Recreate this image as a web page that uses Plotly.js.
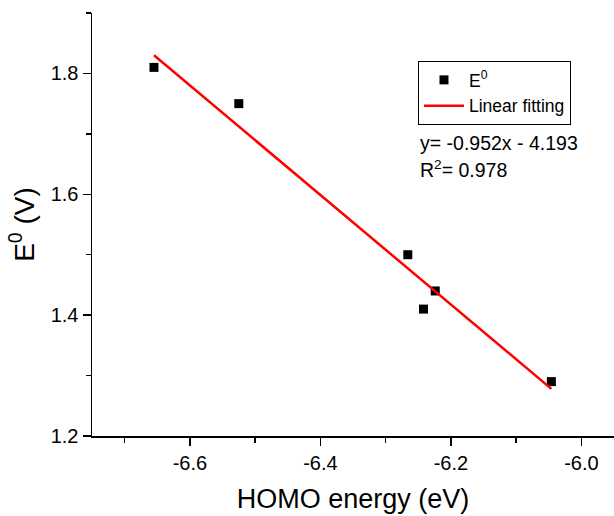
<!DOCTYPE html>
<html>
<head>
<meta charset="utf-8">
<script src="https://cdn.plot.ly/plotly-3.0.1.min.js"></script>
<style>html,body{margin:0;padding:0;background:#fff;}#chart{width:614px;height:516px;}</style>
</head>
<body>
<div id="chart"></div>
<script>
// Data
const homoEnergy = [-6.655, -6.525, -6.266, -6.224, -6.242, -6.046];
const e0Values = [1.81, 1.75, 1.50, 1.44, 1.41, 1.29];
const fitX = [-6.655, -6.046];
const fitY = [1.830, 1.278];
const xTickVals = [-6.6, -6.4, -6.2, -6.0];
const xTickText = ['-6.6', '-6.4', '-6.2', '-6.0'];
const yTickVals = [1.2, 1.4, 1.6, 1.8];
const yTickText = ['1.2', '1.4', '1.6', '1.8'];
const equationText = 'y= -0.952x - 4.193';
const r2Text = 'R<sup>2</sup>= 0.978';

const FONT = 'Liberation Sans, Arial, sans-serif';

const traces = [
  {
    x: homoEnergy, y: e0Values, type: 'scatter', mode: 'markers',
    name: 'E<sup>0</sup>',
    marker: {symbol: 'square', size: 9, color: '#000'}
  },
  {
    x: fitX, y: fitY, type: 'scatter', mode: 'lines',
    name: 'Linear fitting',
    line: {color: '#ff0000', width: 2.5}
  }
];

const axisCommon = {
  showgrid: false, zeroline: false, showline: true,
  linecolor: '#000', linewidth: 1.5,
  ticks: 'outside', ticklen: 8, tickwidth: 1.5, tickcolor: '#000',
  tickfont: {family: FONT, size: 20, color: '#000'}
};

const layout = {
  width: 614, height: 516,
  margin: {l: 92, r: 0, t: 13, b: 80},
  paper_bgcolor: '#fff', plot_bgcolor: '#fff',
  font: {family: FONT, color: '#000'},
  showlegend: true,
  xaxis: Object.assign({}, axisCommon, {
    range: [-6.75, -5.95], tickmode: 'array', tickvals: xTickVals, ticktext: xTickText,
    minor: {dtick: 0.1, tick0: -6.6, ticks: 'outside', ticklen: 5, tickwidth: 1.5, tickcolor: '#000', showgrid: false},
    title: {text: 'HOMO energy (eV)', font: {family: FONT, size: 27, color: '#000'}, standoff: 16}
  }),
  yaxis: Object.assign({}, axisCommon, {
    range: [1.2, 1.9], tickmode: 'array', tickvals: yTickVals, ticktext: yTickText,
    minor: {dtick: 0.1, tick0: 1.2, ticks: 'outside', ticklen: 5, tickwidth: 1.5, tickcolor: '#000', showgrid: false},
    title: {text: 'E<sup>0</sup> (V)', font: {family: FONT, size: 28, color: '#000'}, standoff: 8}
  }),
  legend: {
    x: 0.6245, y: 0.8865, xanchor: 'left', yanchor: 'top',
    bgcolor: '#fff', bordercolor: '#000', borderwidth: 1,
    font: {family: FONT, size: 17.5, color: '#000'},
    itemwidth: 40,
    tracegroupgap: 0
  },
  annotations: [
    {xref: 'paper', yref: 'paper', x: 0.624, y: 0.6935, xanchor: 'left', yanchor: 'middle',
     text: equationText, showarrow: false, font: {family: FONT, size: 19.5, color: '#000'}},
    {xref: 'paper', yref: 'paper', x: 0.624, y: 0.632, xanchor: 'left', yanchor: 'middle',
     text: r2Text, showarrow: false, font: {family: FONT, size: 19.5, color: '#000'}}
  ]
};

Plotly.newPlot('chart', traces, layout, {displayModeBar: false, staticPlot: true});
</script>
</body>
</html>
